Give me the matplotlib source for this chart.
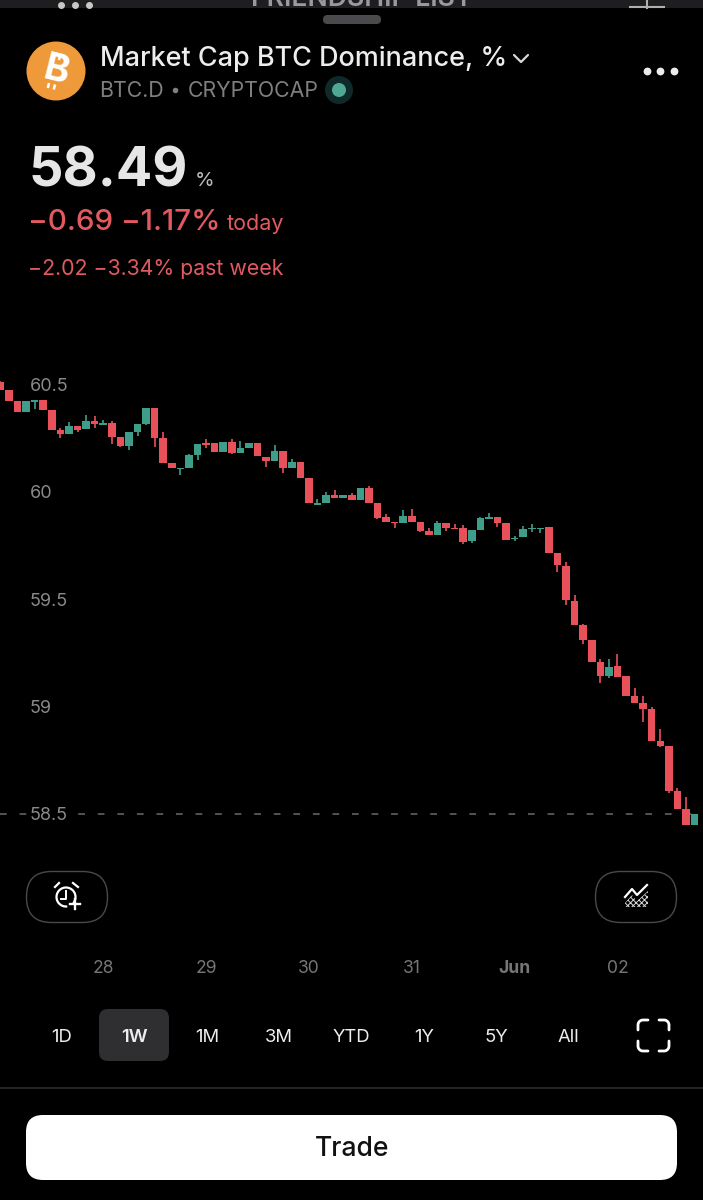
import numpy as np
import matplotlib
matplotlib.use("Agg")
import matplotlib.pyplot as plt
from matplotlib.patches import FancyBboxPatch, Circle, Polygon

plt.rcParams["font.family"] = ["Inter", "DejaVu Sans"]
plt.rcParams["hatch.linewidth"] = 0.7

# --------------------------------------------------
# Candles, 2h bars
# --------------------------------------------------
opens = [
    60.514, 60.477, 60.424, 60.375, 60.420, 60.428, 60.382, 60.288, 60.272, 60.306,
    60.294, 60.331, 60.312, 60.322, 60.257, 60.216, 60.280, 60.316, 60.390, 60.252,
    60.135, 60.106, 60.112, 60.173, 60.227, 60.227, 60.187, 60.232, 60.180, 60.204,
    60.230, 60.165, 60.143, 60.193, 60.113, 60.139, 60.065, 59.941, 59.949, 59.986,
    59.972, 59.986, 59.964, 60.017, 59.950, 59.882, 59.861, 59.857, 59.887, 59.860,
    59.820, 59.799, 59.855, 59.832, 59.832, 59.770, 59.823, 59.875, 59.882, 59.857,
    59.779, 59.790, 59.827, 59.827, 59.835, 59.715, 59.656, 59.493, 59.380, 59.310,
    59.207, 59.140, 59.187, 59.140, 59.047, 59.016, 58.988, 58.837, 58.815, 58.604,
    58.520, 58.447,
]
closes = [
    60.476, 60.424, 60.372, 60.424, 60.427, 60.382, 60.289, 60.272, 60.308, 60.291,
    60.331, 60.319, 60.320, 60.257, 60.216, 60.280, 60.316, 60.390, 60.253, 60.135,
    60.112, 60.112, 60.174, 60.225, 60.218, 60.187, 60.232, 60.180, 60.204, 60.229,
    60.167, 60.143, 60.190, 60.112, 60.139, 60.067, 59.947, 59.947, 59.987, 59.972,
    59.985, 59.964, 60.017, 59.950, 59.880, 59.861, 59.855, 59.887, 59.861, 59.820,
    59.799, 59.857, 59.832, 59.826, 59.769, 59.823, 59.877, 59.882, 59.854, 59.778,
    59.787, 59.827, 59.833, 59.833, 59.717, 59.658, 59.495, 59.380, 59.310, 59.209,
    59.143, 59.185, 59.139, 59.049, 59.017, 58.989, 58.839, 58.817, 58.605, 58.522,
    58.447, 58.500,
]
highs = [
    60.518, 60.477, 60.424, 60.424, 60.427, 60.428, 60.382, 60.297, 60.328, 60.306,
    60.359, 60.356, 60.334, 60.331, 60.257, 60.280, 60.316, 60.390, 60.390, 60.280,
    60.135, 60.112, 60.179, 60.225, 60.246, 60.227, 60.232, 60.246, 60.238, 60.229,
    60.230, 60.165, 60.219, 60.193, 60.155, 60.139, 60.065, 59.967, 60.000, 60.008,
    59.985, 59.997, 60.017, 60.028, 59.950, 59.899, 59.861, 59.916, 59.921, 59.860,
    59.831, 59.863, 59.855, 59.851, 59.844, 59.823, 59.885, 59.901, 59.882, 59.857,
    59.796, 59.841, 59.849, 59.833, 59.835, 59.715, 59.672, 59.520, 59.386, 59.310,
    59.221, 59.221, 59.243, 59.140, 59.087, 59.049, 58.996, 58.893, 58.815, 58.618,
    58.579, 58.500,
]
lows = [
    60.476, 60.424, 60.372, 60.375, 60.387, 60.382, 60.289, 60.253, 60.272, 60.278,
    60.294, 60.297, 60.312, 60.222, 60.212, 60.196, 60.261, 60.311, 60.210, 60.135,
    60.112, 60.081, 60.112, 60.149, 60.204, 60.187, 60.187, 60.177, 60.180, 60.204,
    60.167, 60.118, 60.143, 60.089, 60.113, 60.067, 59.947, 59.941, 59.949, 59.972,
    59.972, 59.964, 59.964, 59.950, 59.874, 59.861, 59.833, 59.857, 59.861, 59.812,
    59.799, 59.799, 59.820, 59.826, 59.757, 59.762, 59.823, 59.875, 59.837, 59.778,
    59.770, 59.790, 59.815, 59.807, 59.717, 59.627, 59.472, 59.380, 59.290, 59.209,
    59.111, 59.132, 59.139, 59.049, 59.017, 58.929, 58.839, 58.812, 58.598, 58.522,
    58.447, 58.447,
]

price_ticks = [60.5, 60, 59.5, 59, 58.5]
price_labels = ["60.5", "60", "59.5", "59", "58.5"]
day_ticks = [12, 24, 36, 48, 60, 72]
day_labels = ["28", "29", "30", "31", "Jun", "02"]
ranges = ["1D", "1W", "1M", "3M", "YTD", "1Y", "5Y", "All"]

RED = "#E8505A"
TEXT_RED = "#E25A60"
GREEN = "#3F9E89"
GREY = "#7F7F82"
W, H = 703, 1200

fig = plt.figure(figsize=(W / 100, H / 100), dpi=100, facecolor="#1E1E20")

# --------------------------------------------------
# App chrome, drawn in screen pixels
# --------------------------------------------------
ui = fig.add_axes([0, 0, 1, 1], zorder=0)
ui.set_xlim(0, W)
ui.set_ylim(H, 0)
ui.axis("off")


def pill(x0, y0, x1, y1, r, fc, ec="none", lw=1.0):
    ui.add_patch(FancyBboxPatch((x0 + r, y0 + r), x1 - x0 - 2 * r, y1 - y0 - 2 * r,
                                boxstyle=f"round,pad={r},rounding_size={r}",
                                fc=fc, ec=ec, lw=lw, mutation_aspect=1))


def px(size):
    # font size given in screen pixels
    return size * 0.72


# header sliver of the page behind the sheet
ui.text(362, 12, "FRIENDSHIP LIST", ha="center", va="bottom", color="#9A9A9C",
        fontsize=px(26.5), fontweight="semibold", clip_on=True)
ui.plot([61, 75, 89], [5, 5, 5], ls="none", marker="o", ms=4, color="#C8C8C8")
ui.plot([647, 647], [0, 8], color="#B0B0B0", lw=1.5)
ui.plot([630, 664], [7, 7], color="#B0B0B0", lw=1.5)

pill(-20, 8, W + 20, H + 40, 16, "black")
pill(323, 15, 381, 24, 4.5, "#4A4A4C")

# logo
ui.add_patch(Circle((56, 71), 29.5, fc="#EE9A3A", ec="none"))
ui.text(56, 71, "B", ha="center", va="center", color="white", fontsize=px(38),
        fontweight="bold", rotation=-14)
for x0, y0, x1, y1 in [(53, 59, 54.2, 54), (59, 60, 60.2, 55), (49, 83, 47.8, 88), (55, 84.5, 53.8, 89.5)]:
    ui.plot([x0, x1], [y0, y1], color="white", lw=1.8, solid_capstyle="butt")

ui.text(100, 59.5, "Market Cap BTC Dominance, %", ha="left", va="center", color="#EDEDED",
        fontsize=px(27), fontweight="medium")
ui.plot([514, 521, 528], [55, 62, 55], color="#D8D8D8", lw=1.6, solid_capstyle="round")
ui.text(99, 91, "BTC.D", ha="left", va="center", color=GREY, fontsize=px(21.3))
ui.plot([175], [90], marker="o", ms=3, color=GREY)
ui.text(188, 91, "CRYPTOCAP", ha="left", va="center", color=GREY, fontsize=px(21.3))
ui.add_patch(Circle((339, 90), 14, fc="#10292B", ec="none"))
ui.add_patch(Circle((339, 90), 7, fc="#4FA893", ec="none"))
ui.plot([647, 660, 674], [71, 71, 71], ls="none", marker="o", ms=4.6, color="#EDEDED")

ui.text(28, 172, "58.49", ha="left", va="center", color="#E6E6E6",
        fontsize=px(54), fontweight="bold")
ui.text(195, 181, "%", ha="left", va="center", color="#BDBDBD", fontsize=px(20))
ui.text(28, 222.5, "\u22120.69 \u22121.17%", ha="left", va="center", color=TEXT_RED,
        fontsize=px(29.6), fontweight="medium")
ui.text(227, 224, "today", ha="left", va="center", color=TEXT_RED, fontsize=px(21.5))
ui.text(28, 269, "\u22122.02 \u22123.34% past week", ha="left", va="center", color=TEXT_RED,
        fontsize=px(21.3))

# alert and indicator buttons
pill(26.5, 871.5, 107.5, 922.5, 25, "black", "#4A4A4C", 1.0)
pill(595.5, 871.5, 676.5, 922.5, 25, "black", "#4A4A4C", 1.0)
t = np.radians(np.linspace(-20, 285, 50))
ui.plot(66 + 9.5 * np.cos(t + 1.9), 897 + 9.5 * np.sin(t + 1.9), color="white", lw=1.6)
ui.plot([66, 66, 61], [891, 899, 899], color="white", lw=1.4)
ui.plot([55, 59], [887, 883], color="white", lw=1.6)
ui.plot([73, 78], [883, 887], color="white", lw=1.6)
ui.plot([75, 75], [899, 909], color="white", lw=1.7)
ui.plot([70, 80], [904, 904], color="white", lw=1.7)
ui.plot([625, 632, 637, 647], [897, 889, 895, 885], color="white", lw=1.6)
ui.add_patch(Polygon([[625, 907], [625, 903], [632, 895], [637, 901], [648, 891], [648, 907]],
                     fc="none", ec="#D8D8D8", lw=0, hatch="xxxxxx"))

# range tabs
pill(99, 1009, 169, 1061, 9, "#2F2F31")
tab_x = 62 + 72.4 * np.arange(len(ranges))
for x, label in zip(tab_x, ranges):
    ui.text(x, 1037, label, ha="center", va="center", color="#EDEDED", fontsize=px(18.5),
            fontweight="semibold" if label == "1W" else "normal")

# full screen icon
a = np.linspace(0, np.pi / 2, 10)
for cx, cy, sx, sy in [(638, 1020, 1, 1), (669, 1020, -1, 1), (638, 1051, 1, -1), (669, 1051, -1, -1)]:
    ui.plot(cx + sx * np.r_[10, 5 - 5 * np.sin(a), 0],
            cy + sy * np.r_[0, 5 - 5 * np.cos(a), 10],
            color="white", lw=2.0, solid_capstyle="round")

ui.plot([0, W], [1087.5, 1087.5], color="#2B2B2D", lw=1.2)
pill(26, 1115, 677, 1180, 17, "white")
ui.text(352, 1149, "Trade", ha="center", va="center", color="#111111",
        fontsize=px(26.5), fontweight="medium")

# --------------------------------------------------
# Candle chart
# --------------------------------------------------
top_px, bottom_px = 340, 945
ax = fig.add_axes([0, 1 - bottom_px / H, 1, (bottom_px - top_px) / H], zorder=1)
ax.patch.set_alpha(0)
for spine in ax.spines.values():
    spine.set_visible(False)

per_px = 0.5 / 107.2
ax.set_ylim(60 + (492 - bottom_px) * per_px, 60 + (492 - top_px) * per_px)
ax.set_xlim(-0.4 / 8.57, (W - 0.4) / 8.57)

opens = np.array(opens)
closes = np.array(closes)
highs = np.array(highs)
lows = np.array(lows)
idx = np.arange(len(opens))
colors = np.where(closes >= opens, GREEN, RED)

ax.axhline(closes[-1], color="#6A6A6C", lw=1.1, dashes=(4.4, 8.4), zorder=1)
ax.vlines(idx, lows, highs, colors=colors, lw=1.2, zorder=2)
ax.bar(idx, np.abs(closes - opens), bottom=np.minimum(opens, closes), width=0.88,
       color=colors, lw=0, zorder=3)

ax.set_yticks(price_ticks)
ax.set_yticklabels(price_labels, ha="left", color="#8A8A8C", fontsize=px(18))
ax.tick_params(axis="y", length=0, pad=-21.6)
ax.get_yticklabels()[-1].set_bbox(dict(fc="black", ec="none", pad=1.5))
ax.set_xticks(day_ticks)
ax.set_xticklabels(day_labels, color="#767678", fontsize=px(17.5))
ax.tick_params(axis="x", length=0, pad=10.5)
ax.get_xticklabels()[4].set_fontweight("bold")

fig.savefig("out.png", dpi=100, facecolor=fig.get_facecolor())
